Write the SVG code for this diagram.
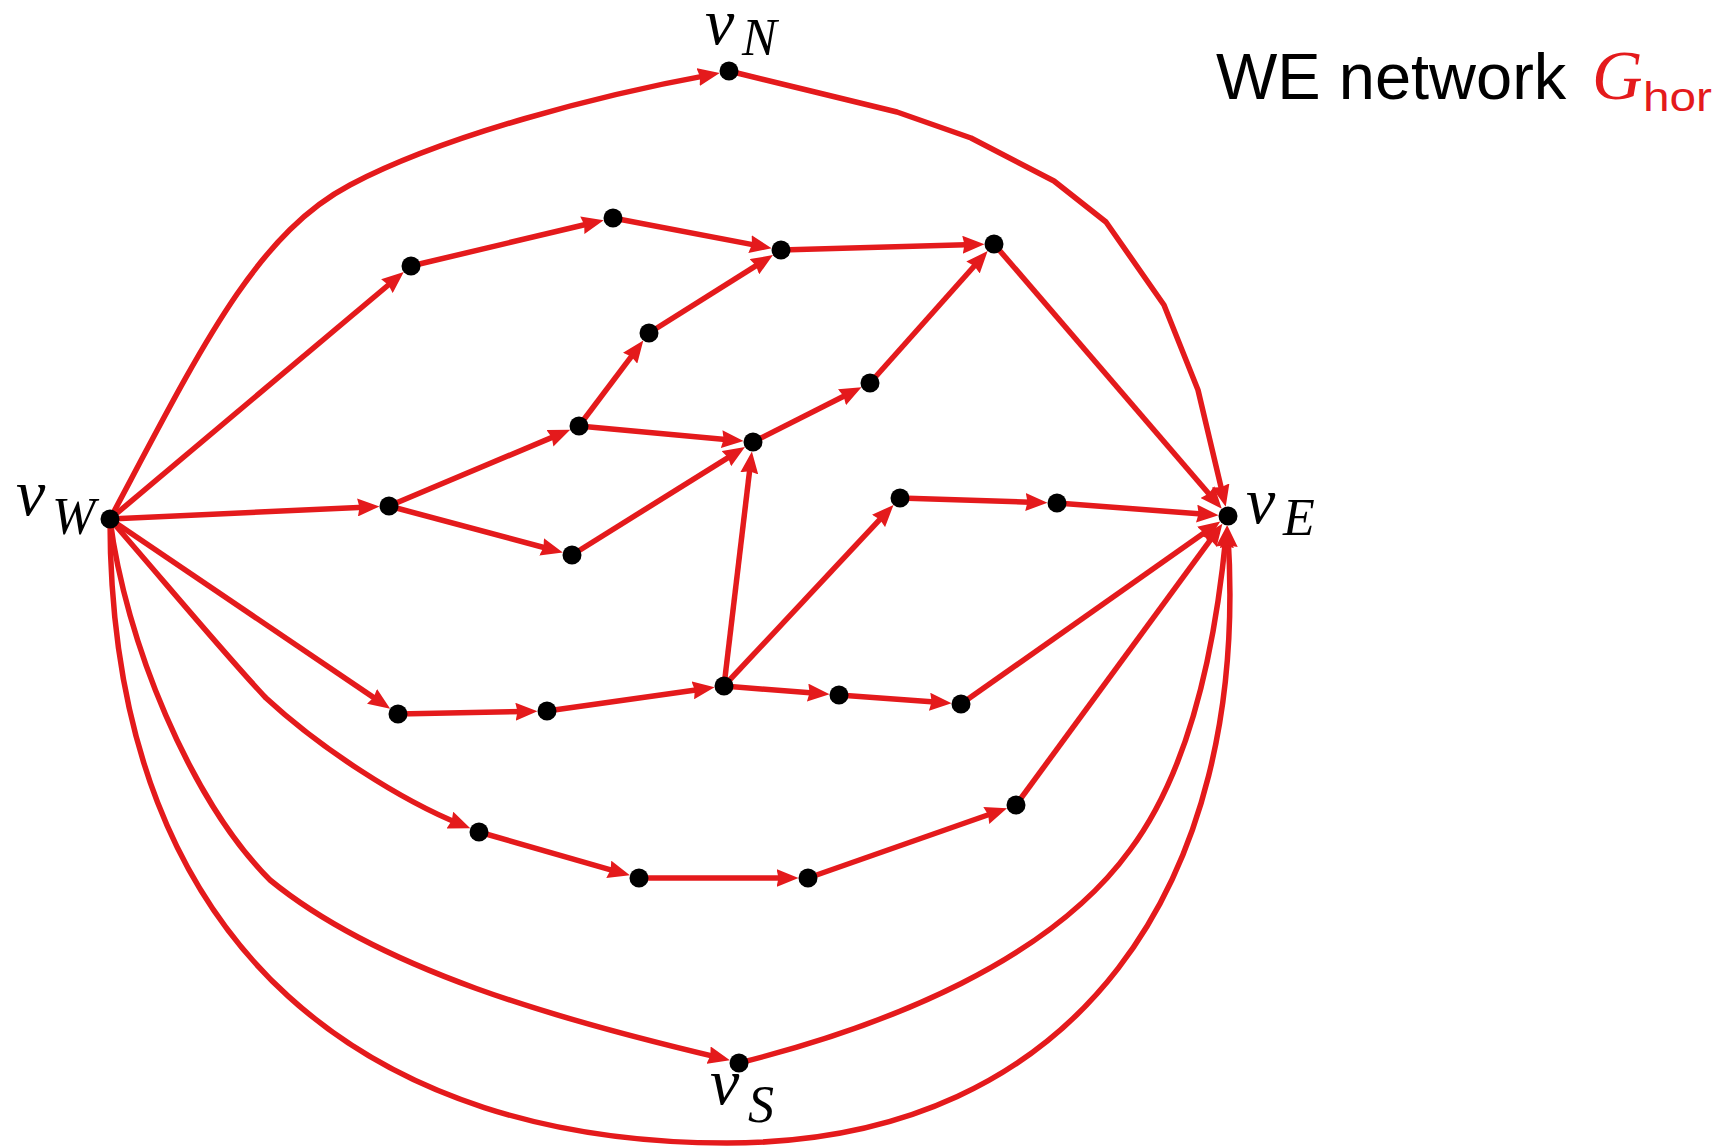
<svg xmlns="http://www.w3.org/2000/svg" width="1727" height="1147" viewBox="0 0 1727 1147">
<style>
.e{fill:none;stroke:#e41a1c;stroke-width:5.5;stroke-linejoin:round;marker-end:url(#ah)}
.n{fill:#000}
.lv{font-family:"Liberation Serif",serif;font-style:italic;font-size:66px;fill:#000}
.ls{font-family:"Liberation Serif",serif;font-style:italic;font-size:52px;fill:#000}
.t{font-family:"Liberation Sans",sans-serif;font-size:65px;fill:#000}
</style>
<defs>
<marker id="ah" markerUnits="userSpaceOnUse" viewBox="0 0 22 18" markerWidth="22" markerHeight="18" refX="12" refY="9" orient="auto">
<path d="M0,0 L22,9 L0,18 L2,9 Z" fill="#e41a1c"/>
</marker>
</defs>
<rect width="1727" height="1147" fill="#fff"/>
<g id="connectors">
<path class="e" d="M110,519 C200,350 255,235 350,185 C445,135 600,95 709.9,74.9"/>
<path class="e" d="M729,71 L815,92 L897,112 L971,138 L1054,181 L1106,222 L1164,305 L1198,390 L1223.4,497.1"/>
<path class="e" d="M110,519 L396.1,278.5"/>
<path class="e" d="M411,266 L594,222.5"/>
<path class="e" d="M613,218 L761.8,246.4"/>
<path class="e" d="M781,250 L974.5,244.5"/>
<path class="e" d="M649,333 L764.5,260.4"/>
<path class="e" d="M579,426 L637.3,348.6"/>
<path class="e" d="M579,426 L733.6,440.2"/>
<path class="e" d="M753,442 L852.6,391.8"/>
<path class="e" d="M870,383 L981,258.5"/>
<path class="e" d="M994,244 L1215.3,501.2"/>
<path class="e" d="M110,519 L369.5,506.9"/>
<path class="e" d="M389,506 L561,433.6"/>
<path class="e" d="M389,506 L553.2,550"/>
<path class="e" d="M572,555 L736.5,452.3"/>
<path class="e" d="M724,686 L750.7,461.4"/>
<path class="e" d="M724,686 L886.7,512.2"/>
<path class="e" d="M900,498 L1037.5,502.4"/>
<path class="e" d="M1057,503 L1208.6,514.5"/>
<path class="e" d="M110,519 L381.9,703.1"/>
<path class="e" d="M398,714 L527.5,711.4"/>
<path class="e" d="M547,711 L704.7,688.7"/>
<path class="e" d="M724,686 L819.6,693.5"/>
<path class="e" d="M839,695 L941.6,702.6"/>
<path class="e" d="M961,704 L1212.1,527.2"/>
<path class="e" d="M1016,805 L1216.5,531.7"/>
<path class="e" d="M110,519 C180,600 230,660 266,698 C320,748 400,800 461,824.5"/>
<path class="e" d="M479,832 L620.3,872.6"/>
<path class="e" d="M639,878 L788.5,878"/>
<path class="e" d="M808,878 L997.6,811.5"/>
<path class="e" d="M110,519 C125,640 190,800 270,880 C380,970 560,1020 720.2,1057.9"/>
<path class="e" d="M739,1063 C890,1025 1050,960 1130,850 C1190,770 1215,650 1226,535.4"/>
<path class="e" d="M110,519 C110,960 380,1143 727,1143 C1080,1143 1250,880 1228,535.5"/>
</g>
<g id="vW"><circle class="n" cx="110" cy="519" r="9.5"/><text class="lv" x="16" y="515">v</text><text class="ls" x="52" y="534">W</text></g>
<g id="vN"><circle class="n" cx="729" cy="71" r="9.5"/><text class="lv" x="705" y="44">v</text><text class="ls" x="742" y="55">N</text></g>
<g id="vE"><circle class="n" cx="1228" cy="516" r="9.5"/><text class="lv" x="1246" y="523">v</text><text class="ls" x="1283" y="535">E</text></g>
<g id="vS"><circle class="n" cx="739" cy="1063" r="9.5"/><text class="lv" x="710" y="1104">v</text><text class="ls" x="748" y="1122">S</text></g>
<g id="nA"><circle class="n" cx="411" cy="266" r="9.5"/></g>
<g id="nB"><circle class="n" cx="613" cy="218" r="9.5"/></g>
<g id="nC"><circle class="n" cx="781" cy="250" r="9.5"/></g>
<g id="nD"><circle class="n" cx="994" cy="244" r="9.5"/></g>
<g id="nE"><circle class="n" cx="649" cy="333" r="9.5"/></g>
<g id="nF"><circle class="n" cx="870" cy="383" r="9.5"/></g>
<g id="nG"><circle class="n" cx="579" cy="426" r="9.5"/></g>
<g id="nH"><circle class="n" cx="753" cy="442" r="9.5"/></g>
<g id="nI"><circle class="n" cx="389" cy="506" r="9.5"/></g>
<g id="nJ"><circle class="n" cx="572" cy="555" r="9.5"/></g>
<g id="nK"><circle class="n" cx="900" cy="498" r="9.5"/></g>
<g id="nL"><circle class="n" cx="1057" cy="503" r="9.5"/></g>
<g id="nM"><circle class="n" cx="398" cy="714" r="9.5"/></g>
<g id="nN"><circle class="n" cx="547" cy="711" r="9.5"/></g>
<g id="nO"><circle class="n" cx="724" cy="686" r="9.5"/></g>
<g id="nP"><circle class="n" cx="839" cy="695" r="9.5"/></g>
<g id="nQ"><circle class="n" cx="961" cy="704" r="9.5"/></g>
<g id="nR"><circle class="n" cx="1016" cy="805" r="9.5"/></g>
<g id="nS"><circle class="n" cx="479" cy="832" r="9.5"/></g>
<g id="nT"><circle class="n" cx="639" cy="878" r="9.5"/></g>
<g id="nU"><circle class="n" cx="808" cy="878" r="9.5"/></g>
<g id="title"><text class="t" x="1216" y="99">WE network</text><text x="1592" y="99" style="font-family:'Liberation Serif',serif;font-style:italic;font-size:70px;fill:#e41a1c">G</text><text x="1643" y="111" textLength="69" lengthAdjust="spacingAndGlyphs" style="font-family:'Liberation Sans',sans-serif;font-size:40px;fill:#e41a1c">hor</text></g>
</svg>
